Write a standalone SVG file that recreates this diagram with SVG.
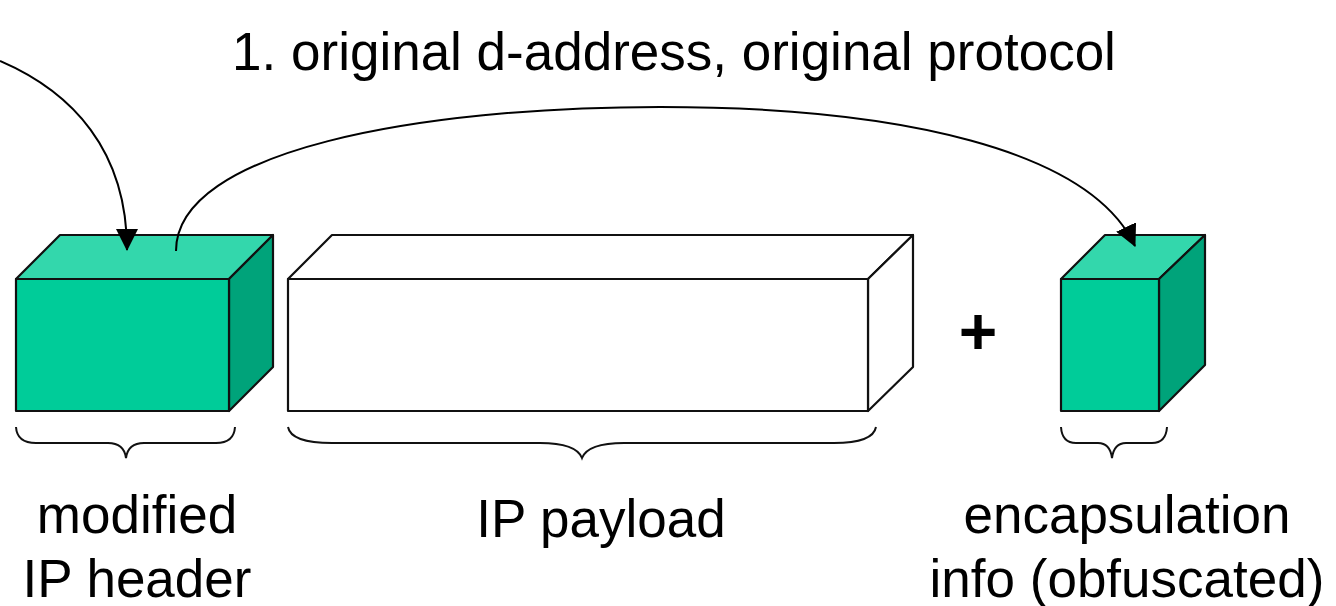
<svg xmlns="http://www.w3.org/2000/svg" width="1336" height="606" viewBox="0 0 1336 606">
<style>
.front{fill:#00CC99;stroke:#111;stroke-width:2.2;stroke-linejoin:round}
.top{fill:#33D7AC;stroke:#111;stroke-width:2.2;stroke-linejoin:round}
.side{fill:#00A37A;stroke:#111;stroke-width:2.2;stroke-linejoin:round}
.white{fill:#fff;stroke:#111;stroke-width:2.2;stroke-linejoin:round}
.brace{fill:none;stroke:#111;stroke-width:2}
.conn{fill:none;stroke:#000;stroke-width:2}
.lbl{font-family:"Liberation Sans",Arial,sans-serif;font-size:53px;fill:#000;text-anchor:middle}
</style>
<defs>
<marker id="ah" markerUnits="userSpaceOnUse" markerWidth="22" markerHeight="22" viewBox="0 0 22 22" refX="21" refY="11" orient="auto">
<path d="M0,0 L22,11 L0,22 Z" fill="#000"/>
</marker>
</defs>
<rect width="1336" height="606" fill="#fff"/>
<text class="lbl" x="674" y="70">1. original d-address, original protocol</text>
<g id="header-box">
<polygon class="top" points="16,279 60,235 273,235 229,279"/>
<polygon class="side" points="229,279 273,235 273,367 229,411"/>
<rect class="front" x="16" y="279" width="213" height="132"/>
</g>
<g id="payload-box">
<polygon class="white" points="288,279 332,235 913,235 868,279"/>
<polygon class="white" points="868,279 913,235 913,367 868,411"/>
<rect class="white" x="288" y="279" width="580" height="132"/>
</g>
<g id="encap-box">
<polygon class="top" points="1061,279 1105,235 1205,235 1159,279"/>
<polygon class="side" points="1159,279 1205,235 1205,365 1159,411"/>
<rect class="front" x="1061" y="279" width="98" height="132"/>
</g>
<g id="plus">
<text x="978" y="354" style="font-family:'Liberation Sans',Arial,sans-serif;font-size:66px;font-weight:bold;text-anchor:middle">+</text>
</g>
<g id="braces">
<path class="brace" d="M16,427 Q17,443 36,443 L108,443 Q124,443 126,458 Q128,443 144,443 L216,443 Q234,443 235,427"/>
<path class="brace" d="M288,427 Q291,443 332,443 L540,443 Q576,443 582,458 Q588,443 624,443 L834,443 Q873,443 876,427"/>
<path class="brace" d="M1061,427 Q1062,443 1076,443 L1098,443 Q1110,443 1112,458 Q1114,443 1126,443 L1152,443 Q1166,443 1167,427"/>
</g>
<g id="connectors">
<path class="conn" d="M0,61 C72,92 127,150 127,250" marker-end="url(#ah)"/>
<path class="conn" d="M176,251 C176,150 420,107 660,107 C900,107 1090,150 1135,246" marker-end="url(#ah)"/>
</g>
<g id="labels">
<text class="lbl" x="137" y="533">modified</text>
<text class="lbl" x="137" y="597">IP header</text>
<text class="lbl" x="601" y="537">IP payload</text>
<text class="lbl" x="1127" y="533">encapsulation</text>
<text class="lbl" x="1127" y="597">info (obfuscated)</text>
</g>
</svg>
